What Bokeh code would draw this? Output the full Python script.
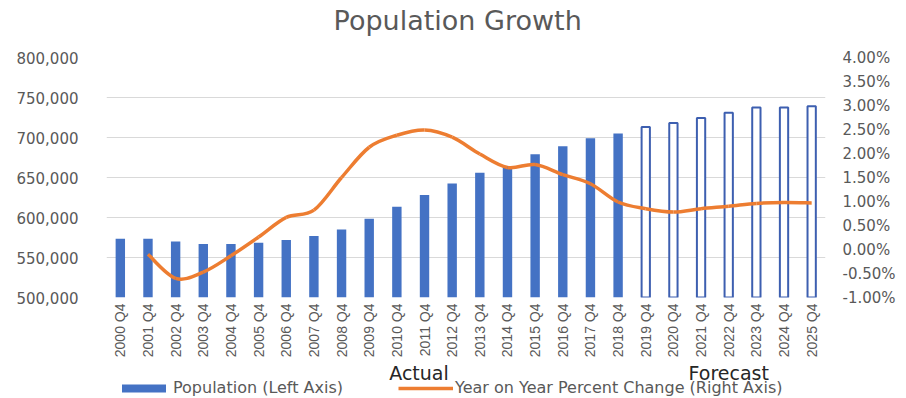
import numpy as np
from bokeh.plotting import figure
from bokeh.layouts import column
from bokeh.models import (Range1d, LinearAxis, NumeralTickFormatter, PrintfTickFormatter,
                          SingleIntervalTicker, FixedTicker, Legend, LegendItem, ColumnDataSource)
from bokeh.core.properties import value
from bokeh.embed import file_html
from bokeh.resources import INLINE

# ---- data ----
title_text = "Population Growth"
categories = ["2000 Q4", "2001 Q4", "2002 Q4", "2003 Q4", "2004 Q4", "2005 Q4", "2006 Q4",
              "2007 Q4", "2008 Q4", "2009 Q4", "2010 Q4", "2011 Q4", "2012 Q4", "2013 Q4",
              "2014 Q4", "2015 Q4", "2016 Q4", "2017 Q4", "2018 Q4", "2019 Q4", "2020 Q4",
              "2021 Q4", "2022 Q4", "2023 Q4", "2024 Q4", "2025 Q4"]
population = [573500, 573500, 570000, 567000, 567000, 568500, 571800, 576800, 585000, 598500,
              613500, 628000, 642500, 656000, 664500, 679000, 689000, 699000, 705000, 713000,
              718000, 724500, 731000, 737500, 737500, 739000]
yoy_categories = categories[1:]
yoy_pct = [-0.10, -0.60, -0.47, -0.13, 0.26, 0.67, 0.82, 1.50, 2.13, 2.38, 2.49, 2.34, 1.99,
           1.71, 1.77, 1.56, 1.37, 0.99, 0.85, 0.78, 0.85, 0.90, 0.96, 0.98, 0.97]
first_forecast = "2019 Q4"
period_labels = ["Actual", "Forecast"]

BLUE = "#4472C4"
BLUE_OUTLINE = "#3D5FB0"
ORANGE = "#ED7D31"
GRAY = "#595959"

idx = {c: i for i, c in enumerate(categories)}
xs = [idx[c] for c in categories]
fi = idx[first_forecast]
xr = Range1d(-0.5, len(categories) - 0.5)


def strip(h):
    f = figure(width=906, height=h, output_backend="svg", toolbar_location=None,
               x_range=xr, y_range=Range1d(0, h),
               min_border_left=106, min_border_right=81, min_border_top=0, min_border_bottom=0,
               x_axis_type=None, y_axis_type=None)
    f.outline_line_color = None
    f.xgrid.grid_line_color = None
    f.ygrid.grid_line_color = None
    f.border_fill_color = "white"
    return f


# ---- title strip ----
t = strip(40)
t.text(x=[(len(categories) - 1) / 2 - 0.3], y=[20], text=[title_text], text_align="center",
       text_baseline="middle", text_font=value("DejaVu Sans"), text_font_size="27px",
       text_color=GRAY)

# ---- main chart ----
p = figure(width=906, height=320, output_backend="svg", toolbar_location=None,
           x_range=xr, y_range=Range1d(500000, 800000),
           min_border_left=106, min_border_right=81, min_border_top=17, min_border_bottom=63)
p.outline_line_color = None
p.background_fill_color = "white"
p.border_fill_color = "white"
p.extra_y_ranges = {"pct": Range1d(-1, 4)}

actual = ColumnDataSource(dict(x=xs[:fi], top=population[:fi]))
fore = ColumnDataSource(dict(x=xs[fi:], top=population[fi:]))
p.vbar(x="x", top="top", bottom=500000, width=0.34, source=actual,
       fill_color=BLUE, line_color=None)
p.vbar(x="x", top="top", bottom=500000, width=0.3, source=fore,
       fill_color="white", line_color=BLUE_OUTLINE, line_width=2)

# smoothed line (Catmull-Rom -> cubic Bezier segments, derived from the data points)
lx = np.array([idx[c] for c in yoy_categories], dtype=float)
ly = np.array(yoy_pct, dtype=float)
n = len(lx)
P = np.stack([lx, ly], axis=1)
Pm = np.vstack([P[0], P, P[-1]])
x0, y0, x1, y1, cx0, cy0, cx1, cy1 = [], [], [], [], [], [], [], []
for i in range(n - 1):
    a, b, c, d = Pm[i], Pm[i + 1], Pm[i + 2], Pm[i + 3]
    c0 = b + (c - a) / 6.0
    c1 = c - (d - b) / 6.0
    x0.append(b[0]); y0.append(b[1]); x1.append(c[0]); y1.append(c[1])
    cx0.append(c0[0]); cy0.append(c0[1]); cx1.append(c1[0]); cy1.append(c1[1])
p.bezier(x0=x0, y0=y0, x1=x1, y1=y1, cx0=cx0, cy0=cy0, cx1=cx1, cy1=cy1,
         line_color=ORANGE, line_width=3.5, y_range_name="pct")

# axes
p.yaxis.ticker = SingleIntervalTicker(interval=50000)
p.yaxis.formatter = NumeralTickFormatter(format="0,0")
right = LinearAxis(y_range_name="pct", ticker=SingleIntervalTicker(interval=0.5),
                   formatter=PrintfTickFormatter(format="%.2f%%"))
p.add_layout(right, "right")
for ax in [p.yaxis[0], right]:
    ax.axis_line_color = None
    ax.major_tick_line_color = None
    ax.minor_tick_line_color = None
    ax.major_tick_out = 0
    ax.major_tick_in = 0
    ax.major_label_text_font = "DejaVu Sans"
    ax.major_label_text_font_size = "15px"
    ax.major_label_text_color = GRAY
p.yaxis[0].major_label_standoff = 24
right.major_label_standoff = 13

p.xaxis.ticker = FixedTicker(ticks=xs)
p.xaxis.major_label_overrides = {i: c for i, c in enumerate(categories)}
p.xaxis.major_label_orientation = np.pi / 2
p.xaxis.axis_line_color = None
p.xaxis.major_tick_line_color = None
p.xaxis.minor_tick_line_color = None
p.xaxis.major_tick_out = 0
p.xaxis.major_tick_in = 0
p.xaxis.major_label_text_font = "Liberation Sans"
p.xaxis.major_label_text_font_size = "14px"
p.xaxis.major_label_text_color = GRAY
p.xaxis.major_label_standoff = 6

p.xgrid.grid_line_color = None
p.ygrid.grid_line_color = "#D9D9D9"
p.ygrid.grid_line_width = 1

# ---- bottom strip: period labels + legend ----
s = strip(38)
s.text(x=[10.8, 22.0], y=[26, 26], text=period_labels, text_align="center",
       text_baseline="middle", text_font=value("DejaVu Sans"), text_font_size="19px",
       text_color="#262626")

leg_bar = s.vbar(x="x", top="top", bottom=500000, width=0.34, source=actual,
                 fill_color=BLUE, line_color=None, visible=False)
leg_line = s.line(x=lx, y=ly, line_color=ORANGE, line_width=3.5, visible=False)
legend = Legend(items=[LegendItem(label="Population (Left Axis)", renderers=[leg_bar]),
                       LegendItem(label="Year on Year Percent Change (Right Axis)", renderers=[leg_line])],
                location=(10, 1), orientation="horizontal", glyph_width=55, glyph_height=10,
                spacing=55, padding=0, margin=0, label_standoff=2, click_policy="none",
                inactive_fill_alpha=0,
                border_line_alpha=0, background_fill_alpha=0,
                label_text_font="DejaVu Sans", label_text_font_size="16px", label_text_color=GRAY)
s.add_layout(legend, "center")

layout = column(t, p, s, spacing=0)
open("out.html", "w").write(file_html(layout, INLINE))
